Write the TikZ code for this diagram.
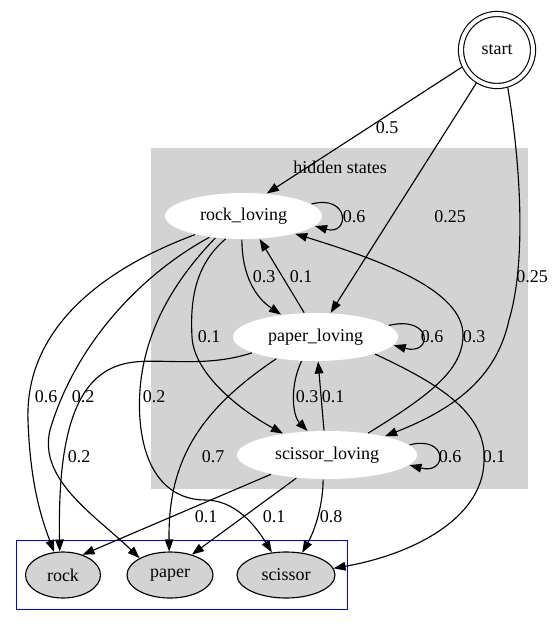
\documentclass[tikz,border=0pt]{standalone}
\usepackage{fontspec}
\setmainfont{Liberation Serif}
\usetikzlibrary{shapes.geometric,arrows.meta}
\definecolor{gvgray}{HTML}{D3D3D3}

\begin{document}
\begin{tikzpicture}[x = 0.75pt, y = -0.75pt, line width = 0.85pt,
        every node/.style = {font = \fontsize{13.5}{16}\selectfont},
        hidden/.style = {ellipse, fill = white, inner sep = 0pt, minimum height = 36pt},
        observed/.style = {ellipse, draw, fill = gvgray, inner sep = 0pt, minimum height = 34.5pt},
        trans/.style = {-{Triangle[length = 9pt, width = 6.5pt]}},
        prob/.style = {inner sep = 0pt}]
        \useasboundingbox (0,0) rectangle (554,627);
        \fill[gvgray] (151,148) rectangle (528,489);
        \node (cluster) at (340,167) {hidden states};
        \draw[blue, line width = 0.6pt] (16,540) rectangle (347,609);
        \node[circle, draw, double, double distance = 3pt, minimum size = 54pt, outer sep = 2.25pt] (start) at (497,50) {start};
        \node[hidden, minimum width = 117.75pt, minimum height = 34.5pt] (rockL) at (243.5,216) {rock\_loving};
        \node[hidden, minimum width = 123.75pt] (paperL) at (315.5,337) {paper\_loving};
        \node[hidden, minimum width = 135pt] (scissorL) at (327,455) {scissor\_loving};
        \node[observed, minimum width = 56.25pt] (rock) at (63,575) {rock};
        \node[observed, minimum width = 64.5pt] (paper) at (170,575) {paper};
        \node[observed, minimum width = 73.5pt] (scissor) at (286,575) {scissor};
        \draw[trans] (start.206) -- (rockL.44);
        \draw[trans] (start.238) -- (paperL.58);
        \draw[trans] (start.286) .. controls (520,160) and (527,260) .. (509,320) .. controls (498,370) and (465,405) .. (scissorL.18);
        \draw[trans] (rockL.10) .. controls (350,194) and (350,236) .. (rockL.352);
        \draw[trans] (paperL.9) .. controls (433,315) and (433,356) .. (paperL.354);
        \draw[trans] (scissorL.7) .. controls (448,435) and (448,475) .. (scissorL.353);
        \draw[trans] (rockL.266) .. controls (242,275) and (255,297) .. (paperL.147);
        \draw[trans] (paperL.115) -- (rockL.305);
        \draw[trans] (rockL.232) .. controls (195,265) and (190,300) .. (192,337) .. controls (194,374) and (240,410) .. (scissorL.154);
        \draw[trans] (scissorL.28) .. controls (430,395) and (463,370) .. (463,335) .. controls (463,290) and (380,260) .. (rockL.341);
        \draw[trans] (paperL.240) .. controls (290,385) and (292,415) .. (scissorL.129);
        \draw[trans] (scissorL.97) -- (paperL.276);
        \draw[trans] (rockL.201) .. controls (100,270) and (25,330) .. (28,420) .. controls (30,480) and (40,515) .. (rock.111);
        \draw[trans] (rockL.212) .. controls (140,275) and (75,345) .. (50,430) .. controls (38,480) and (95,515) .. (paper.151);
        \draw[trans] (rockL.218) .. controls (165,290) and (135,350) .. (140,420) .. controls (145,480) and (175,500) .. (205,500) .. controls (235,500) and (255,525) .. (scissor.122);
        \draw[trans] (paperL.194) .. controls (200,370) and (150,355) .. (120,365) .. controls (70,380) and (58,450) .. (rock.98);
        \draw[trans] (paperL.209) .. controls (200,410) and (168,460) .. (paper.92);
        \draw[trans] (paperL.344) .. controls (430,380) and (488,410) .. (484,462) .. controls (482,520) and (410,555) .. (scissor.8);
        \draw[trans] (scissorL.199) -- (rock.46);
        \draw[trans] (scissorL.217) -- (paper.43);
        \draw[trans] (scissorL.261) .. controls (323,505) and (315,530) .. (scissor.54);
        \node[prob] (p1) at (387,128) {0.5};
        \node[prob] (p2) at (450,217) {0.25};
        \node[prob] (p3) at (532,277) {0.25};
        \node[prob] (p4) at (354,217) {0.6};
        \node[prob] (p5) at (264,277) {0.3};
        \node[prob] (p6) at (301,277) {0.1};
        \node[prob] (p7) at (209,337) {0.1};
        \node[prob] (p8) at (432,337) {0.6};
        \node[prob] (p9) at (474,337) {0.3};
        \node[prob] (p10) at (46,397) {0.6};
        \node[prob] (p11) at (83,397) {0.2};
        \node[prob] (p12) at (154,397) {0.2};
        \node[prob] (p13) at (307,397) {0.3};
        \node[prob] (p14) at (333,397) {0.1};
        \node[prob] (p15) at (79,457) {0.2};
        \node[prob] (p16) at (213,457) {0.7};
        \node[prob] (p17) at (450,457) {0.6};
        \node[prob] (p18) at (494,457) {0.1};
        \node[prob] (p19) at (206,517) {0.1};
        \node[prob] (p20) at (274,517) {0.1};
        \node[prob] (p21) at (331,517) {0.8};
\end{tikzpicture}
\end{document}
